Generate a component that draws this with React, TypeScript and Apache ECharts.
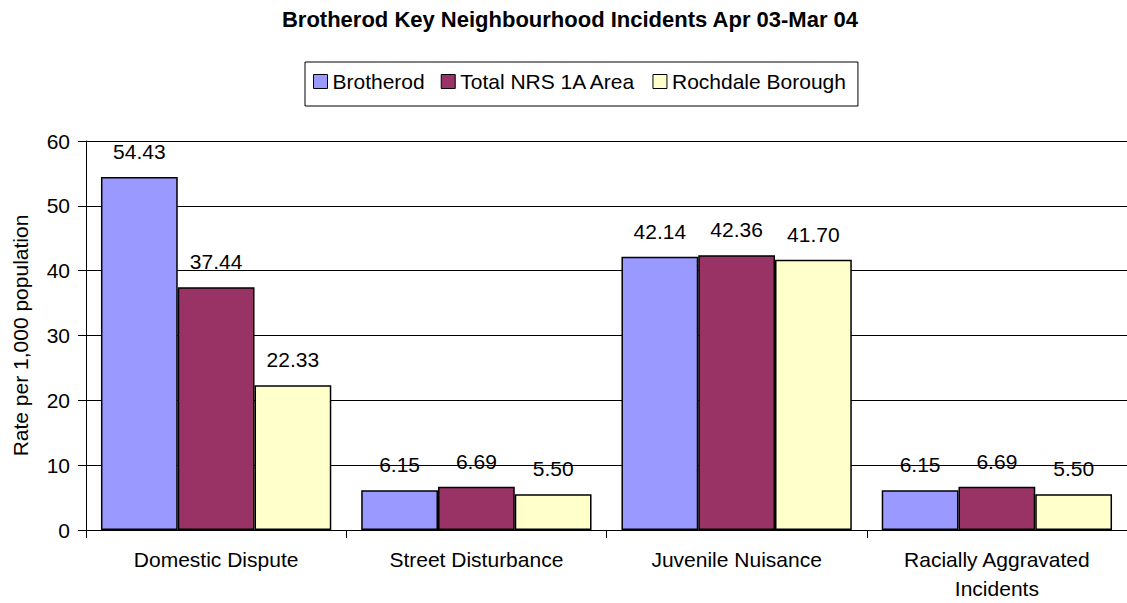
import React, { useEffect, useRef } from "react";
import * as echarts from "echarts";

const categories = ["Domestic Dispute", "Street Disturbance", "Juvenile Nuisance", "Racially Aggravated\nIncidents"];
const seriesNames = ["Brotherod", "Total NRS 1A Area", "Rochdale Borough"];
const brotherod = [54.43, 6.15, 42.14, 6.15];
const totalNrs = [37.44, 6.69, 42.36, 6.69];
const rochdale = [22.33, 5.5, 41.7, 5.5];
const colors = ["#9999FF", "#993366", "#FFFFCC"];
const yTicks = [0, 10, 20, 30, 40, 50, 60];

export default function App() {
  const ref = useRef<HTMLDivElement>(null);
  useEffect(() => {
    const chart = echarts.init(ref.current!, null, { renderer: "svg" });
    const font = "Arial, 'Liberation Sans', sans-serif";
    const data = [brotherod, totalNrs, rochdale];
    chart.setOption({
      animation: false,
      backgroundColor: "#ffffff",
      title: {
        text: "Brotherod Key Neighbourhood Incidents Apr 03-Mar 04",
        left: 565,
        textAlign: "center",
        top: 3,
        textStyle: { fontFamily: font, fontSize: 22, fontWeight: "bold", color: "#000" },
      },
      legend: {
        left: 305,
        top: 62,
        padding: [9, 12, 14, 8],
        borderColor: "#000",
        borderWidth: 1,
        itemWidth: 14,
        itemHeight: 14,
        itemGap: 16,
        icon: "rect",
        itemStyle: { borderColor: "#000", borderWidth: 1 },
        textStyle: { fontFamily: font, fontSize: 21, color: "#000" },
        data: seriesNames,
      },
      grid: { left: 86, right: -4, top: 141, bottom: 73, containLabel: false },
      xAxis: {
        type: "category",
        data: categories,
        axisLine: { lineStyle: { color: "#000", width: 1 } },
        axisTick: { show: true, length: 8, inside: false, lineStyle: { color: "#000" } },
        axisLabel: { fontFamily: font, fontSize: 21, color: "#000", margin: 15, lineHeight: 29, interval: 0 },
      },
      yAxis: {
        type: "value",
        min: 0,
        max: 60,
        interval: 10,
        name: "Rate per 1,000 population",
        nameLocation: "middle",
        nameGap: 55,
        nameTextStyle: { fontFamily: font, fontSize: 21, color: "#000" },
        axisLine: { show: true, lineStyle: { color: "#000", width: 1 } },
        axisTick: { show: true, length: 8, lineStyle: { color: "#000" } },
        axisLabel: {
          fontFamily: font,
          fontSize: 21,
          color: "#000",
          margin: 16,
          formatter: (v: number) => (yTicks.includes(v) ? String(v) : ""),
        },
        splitLine: { show: true, lineStyle: { color: "#000", width: 1 } },
      },
      series: seriesNames.map((name, i) => ({
        name,
        type: "bar",
        data: data[i],
        barGap: "0%",
        barCategoryGap: "11.5%",
        itemStyle: { color: colors[i], borderColor: "#000", borderWidth: 1.5 },
        label: {
          show: true,
          position: "top",
          distance: 15,
          fontFamily: font,
          fontSize: 21,
          color: "#000",
          formatter: (p: any) => Number(p.value).toFixed(2),
        },
      })),
    });
    return () => chart.dispose();
  }, []);
  return (
    <div
      ref={ref}
      style={{ position: "fixed", left: 0, top: 0, width: 1127, height: 603 }}
    />
  );
}
